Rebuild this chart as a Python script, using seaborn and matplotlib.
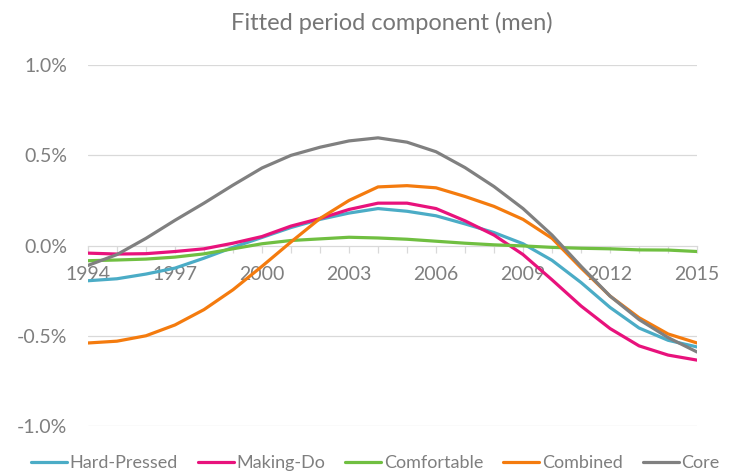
import numpy as np
import pandas as pd
import matplotlib
matplotlib.use("Agg")
import matplotlib.pyplot as plt
import seaborn as sns
from matplotlib.ticker import FuncFormatter, MultipleLocator

years = list(range(1994, 2016))
hard_pressed = [-0.195, -0.184, -0.158, -0.125, -0.070, -0.010, 0.045, 0.100, 0.145, 0.180, 0.205,
                0.190, 0.165, 0.120, 0.072, 0.010, -0.082, -0.205, -0.343, -0.457, -0.525, -0.562]
making_do = [-0.042, -0.047, -0.045, -0.033, -0.018, 0.013, 0.050, 0.108, 0.150, 0.200, 0.235,
             0.235, 0.205, 0.137, 0.058, -0.050, -0.190, -0.335, -0.460, -0.556, -0.607, -0.635]
comfortable = [-0.084, -0.080, -0.075, -0.064, -0.046, -0.018, 0.010, 0.028, 0.037, 0.046, 0.042,
               0.035, 0.024, 0.013, 0.004, -0.002, -0.010, -0.015, -0.018, -0.024, -0.025, -0.033]
combined = [-0.540, -0.530, -0.500, -0.440, -0.355, -0.245, -0.115, 0.020, 0.150, 0.250, 0.325,
            0.332, 0.320, 0.272, 0.217, 0.145, 0.040, -0.124, -0.280, -0.400, -0.490, -0.540]
core = [-0.110, -0.050, 0.040, 0.140, 0.235, 0.335, 0.430, 0.500, 0.545, 0.580, 0.597,
        0.573, 0.520, 0.432, 0.327, 0.205, 0.058, -0.115, -0.280, -0.410, -0.510, -0.590]
tick_years = years[::3]

series_names = ["Hard-Pressed", "Making-Do", "Comfortable", "Combined", "Core"]
colors = ["#4BACC6", "#E8127C", "#70BF41", "#F47B0E", "#808080"]

frames = []
for name, vals in zip(series_names, [hard_pressed, making_do, comfortable, combined, core]):
    frames.append(pd.DataFrame({"year": years, "value": vals, "series": name}))
df = pd.concat(frames, ignore_index=True)

sns.set_theme(style="white")
plt.rcParams["font.family"] = ["Lato", "DejaVu Sans"]

fig = plt.figure(figsize=(7.33, 4.72), dpi=100)
ax = fig.add_axes([0.12, 0.0975, 0.831, 0.7645])

sns.lineplot(data=df, x="year", y="value", hue="series", palette=colors,
             hue_order=series_names, linewidth=2.3, ax=ax, legend=True)

ax.set_xlim(1994, 2015)
ax.set_ylim(-1.0, 1.0)
ax.yaxis.set_major_locator(MultipleLocator(0.5))
ax.yaxis.set_major_formatter(FuncFormatter(lambda v, p: f"{v:.1f}%"))
ax.set_xticks(tick_years)
ax.set_xticks(years, minor=True)
ax.set_xticklabels([str(y) for y in tick_years])

grid_c = "#D9D9D9"
for yv in [-1.0, -0.5, 0.5, 1.0]:
    ax.axhline(yv, color=grid_c, linewidth=0.9, zorder=0)

for s in ["top", "right", "left"]:
    ax.spines[s].set_visible(False)
ax.spines["bottom"].set_position(("data", 0))
ax.spines["bottom"].set_color(grid_c)
ax.spines["bottom"].set_linewidth(0.9)
ax.spines["bottom"].set_zorder(0)

text_c = "#7F7F7F"
ax.tick_params(axis="x", which="both", direction="out", length=5, width=0.9,
               color=grid_c, labelcolor=text_c, labelsize=14, pad=10, bottom=True)
ax.tick_params(axis="y", length=0, labelcolor=text_c, labelsize=14, pad=15)
ax.set_xlabel("")
ax.set_ylabel("")

fig.suptitle("Fitted period component (men)", x=0.535, y=0.975, fontsize=17, color="#767676")

handles, labels = ax.get_legend_handles_labels()
ax.legend_.remove()
fig.legend(handles, labels, loc="center", bbox_to_anchor=(0.512, 0.019), ncol=5,
           frameon=False, fontsize=13, handlelength=2.0, handletextpad=0.15,
           columnspacing=1.1, labelcolor=text_c, borderaxespad=0)

fig.savefig("out.png", dpi=100)
